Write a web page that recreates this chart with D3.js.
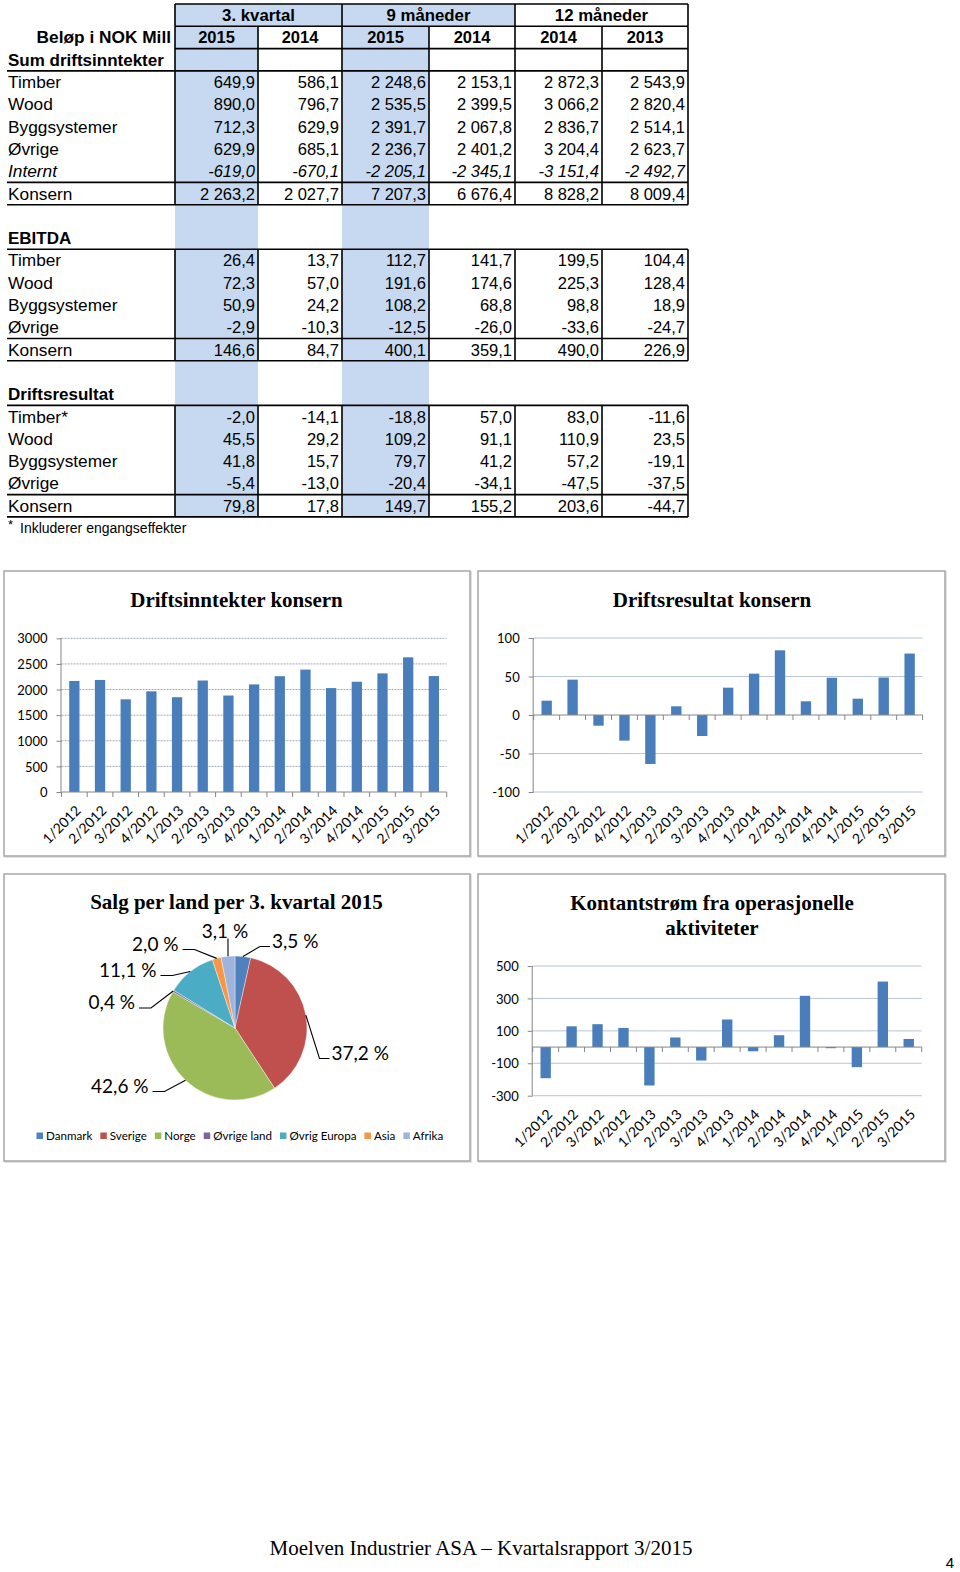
<!DOCTYPE html>
<html><head><meta charset="utf-8">
<script src="https://cdn.jsdelivr.net/npm/d3@7"></script>
<style>
html,body{margin:0;padding:0;background:#fff;}
svg{display:block;}
</style></head>
<body>
<svg id="page" width="960" height="1572"></svg>
<script>
// ---------------- DATA ----------------
const groupHeaders = ["3. kvartal", "9 måneder", "12 måneder"];
const yearHeaders = ["2015", "2014", "2015", "2014", "2014", "2013"];

const revenueTitle = "Sum driftsinntekter";
const revenueLabels = ["Timber", "Wood", "Byggsystemer", "Øvrige", "Internt", "Konsern"];
const revenueValues = [
  [649.9, 586.1, 2248.6, 2153.1, 2872.3, 2543.9],
  [890.0, 796.7, 2535.5, 2399.5, 3066.2, 2820.4],
  [712.3, 629.9, 2391.7, 2067.8, 2836.7, 2514.1],
  [629.9, 685.1, 2236.7, 2401.2, 3204.4, 2623.7],
  [-619.0, -670.1, -2205.1, -2345.1, -3151.4, -2492.7],
  [2263.2, 2027.7, 7207.3, 6676.4, 8828.2, 8009.4]
];
const ebitdaTitle = "EBITDA";
const ebitdaLabels = ["Timber", "Wood", "Byggsystemer", "Øvrige", "Konsern"];
const ebitdaValues = [
  [26.4, 13.7, 112.7, 141.7, 199.5, 104.4],
  [72.3, 57.0, 191.6, 174.6, 225.3, 128.4],
  [50.9, 24.2, 108.2, 68.8, 98.8, 18.9],
  [-2.9, -10.3, -12.5, -26.0, -33.6, -24.7],
  [146.6, 84.7, 400.1, 359.1, 490.0, 226.9]
];
const resultTitle = "Driftsresultat";
const resultLabels = ["Timber*", "Wood", "Byggsystemer", "Øvrige", "Konsern"];
const resultValues = [
  [-2.0, -14.1, -18.8, 57.0, 83.0, -11.6],
  [45.5, 29.2, 109.2, 91.1, 110.9, 23.5],
  [41.8, 15.7, 79.7, 41.2, 57.2, -19.1],
  [-5.4, -13.0, -20.4, -34.1, -47.5, -37.5],
  [79.8, 17.8, 149.7, 155.2, 203.6, -44.7]
];
const footnote = "Inkluderer engangseffekter";

const quarters = ["1/2012","2/2012","3/2012","4/2012","1/2013","2/2013","3/2013","4/2013",
                  "1/2014","2/2014","3/2014","4/2014","1/2015","2/2015","3/2015"];
const revenueQuarterly = [2167, 2187, 1809, 1965, 1850, 2176, 1883, 2100, 2260, 2389, 2028, 2152, 2315, 2629, 2263];
const resultQuarterly  = [18.6, 45.9, -13.9, -33.3, -63.6, 11.3, -27.3, 35.5, 53.7, 84.0, 17.8, 48.4, 21.2, 48.7, 79.8];
const cashflowQuarterly = [-192, 128, 141, 118, -237, 59, -83, 170, -26, 73, 316, -7, -124, 404, 50];

const revenueTicks = [0, 500, 1000, 1500, 2000, 2500, 3000];
const resultTicks = [-100, -50, 0, 50, 100];
const cashflowTicks = [-300, -100, 100, 300, 500];

const countries = ["Danmark", "Sverige", "Norge", "Øvrige land", "Øvrig Europa", "Asia", "Afrika"];
const countryShares = [3.5, 37.2, 42.6, 0.4, 11.1, 2.0, 3.1];

const chartTitles = ["Driftsinntekter konsern", "Driftsresultat konsern",
                     "Salg per land per 3. kvartal 2015", ["Kontantstrøm fra operasjonelle", "aktiviteter"]];
const footerText = "Moelven Industrier ASA – Kvartalsrapport 3/2015";
const pageNumber = "4";

// ---------------- STYLE / LAYOUT ----------------
const svg = d3.select("#page");
svg.append("rect").attr("width", 960).attr("height", 1572).attr("fill", "#fff");

const TFONT = "'Liberation Sans', Arial, sans-serif";
const CFONT = "Lato, 'Open Sans', sans-serif";
const SERIF = "'Liberation Serif', 'Times New Roman', serif";
const BLUEFILL = "#C6D9F1";
const BAR = "#4A7EBB";
const fmt = d3.formatLocale({decimal: ",", thousands: " ", grouping: [3], currency: ["", ""], minus: "-"}).format(",.1f");

// ---------------- TABLE ----------------
const colEdges = [175, 258, 342, 429, 515, 602, 688];
const rowTop = i => 4 + i * 22.3;
const rowMid = i => rowTop(i) + 11.15;
const tbl = svg.append("g");
const lineW = 1.6;

[0, 2].forEach(c => {
  tbl.append("rect").attr("x", colEdges[c]).attr("y", rowTop(0))
    .attr("width", colEdges[c + 1] - colEdges[c]).attr("height", rowTop(23) - rowTop(0))
    .attr("fill", BLUEFILL);
});
[0, 1].forEach(g => {
  tbl.append("rect").attr("x", colEdges[g * 2]).attr("y", rowTop(0))
    .attr("width", colEdges[g * 2 + 2] - colEdges[g * 2]).attr("height", 22.3).attr("fill", BLUEFILL);
});

const hline = (y, x0, x1) => tbl.append("line").attr("x1", x0).attr("x2", x1).attr("y1", y).attr("y2", y)
  .attr("stroke", "#000").attr("stroke-width", lineW);
const vline = (x, y0, y1) => tbl.append("line").attr("x1", x).attr("x2", x).attr("y1", y0).attr("y2", y1)
  .attr("stroke", "#000").attr("stroke-width", lineW);

const text = (x, y, s, opts = {}) => tbl.append("text").attr("x", x).attr("y", y).text(s)
  .attr("font-family", TFONT).attr("font-size", opts.size || 16.5)
  .attr("font-weight", opts.bold ? "bold" : null).attr("font-style", opts.italic ? "italic" : null)
  .attr("text-anchor", opts.anchor || "start").attr("fill", "#000");

hline(rowTop(0), colEdges[0], colEdges[6]);
hline(rowTop(1), colEdges[0], colEdges[6]);
[0, 2, 4, 6].forEach(i => vline(colEdges[i], rowTop(0), rowTop(1)));
groupHeaders.forEach((h, g) => text((colEdges[g * 2] + colEdges[g * 2 + 2]) / 2, rowMid(0) + 6, h, {bold: true, anchor: "middle", size: 16.8}));
text(171, rowMid(1) + 6, "Beløp i NOK Mill", {bold: true, anchor: "end", size: 17.3});
yearHeaders.forEach((y, c) => text((colEdges[c] + colEdges[c + 1]) / 2, rowMid(1) + 6, y, {bold: true, anchor: "middle"}));
hline(rowTop(2), colEdges[0], colEdges[6]);
colEdges.forEach(x => vline(x, rowTop(1), rowTop(3)));
text(8, rowMid(2) + 6, revenueTitle, {bold: true, size: 17});

function section(titleRow, title, labels, values, bordersFromTitle) {
  if (!bordersFromTitle) text(8, rowMid(titleRow) + 6, title, {bold: true, size: 17});
  const start = titleRow + 1, end = start + labels.length;
  hline(rowTop(start), 7, colEdges[6]);
  hline(rowTop(end - 1), 7, colEdges[6]);
  hline(rowTop(end), 7, colEdges[6]);
  colEdges.forEach(x => vline(x, rowTop(start), rowTop(end)));
  labels.forEach((lab, r) => {
    const italic = lab === "Internt";
    text(8, rowMid(start + r) + 6, lab, {italic, size: 17.3});
    values[r].forEach((v, c) => text(colEdges[c + 1] - 3, rowMid(start + r) + 6, fmt(v), {anchor: "end", italic}));
  });
}
section(2, revenueTitle, revenueLabels, revenueValues, true);
section(10, ebitdaTitle, ebitdaLabels, ebitdaValues, false);
section(17, resultTitle, resultLabels, resultValues, false);
text(8, rowMid(23) + 1, "*", {size: 13});
text(20, rowMid(23) + 5, footnote, {size: 14});

// ---------------- CHART FRAMES ----------------
const frames = [[4, 571, 470, 856], [478, 571, 945, 856], [4, 874, 470, 1161], [478, 874, 945, 1161]];
frames.forEach(([x0, y0, x1, y1]) => {
  svg.append("rect").attr("x", x0 + 1).attr("y", y0 + 1).attr("width", x1 - x0).attr("height", y1 - y0)
    .attr("fill", "none").attr("stroke", "#D9D9D9").attr("stroke-width", 1.5);
  svg.append("rect").attr("x", x0).attr("y", y0).attr("width", x1 - x0).attr("height", y1 - y0)
    .attr("fill", "#fff").attr("stroke", "#A6A6A6").attr("stroke-width", 1.5);
});

function chartTitle(cx, y, lines) {
  [].concat(lines).forEach((l, i) => svg.append("text").attr("x", cx).attr("y", y + i * 24.5).text(l)
    .attr("font-family", SERIF).attr("font-weight", "bold").attr("font-size", 21)
    .attr("text-anchor", "middle").attr("fill", "#000"));
}

function barChart({x0, x1, yTop, yBot, domain, ticks, values, dashed}) {
  const g = svg.append("g");
  const x = d3.scaleBand().domain(quarters).range([x0, x1]).paddingInner(0.6).paddingOuter(0.3);
  const y = d3.scaleLinear().domain(domain).range([yBot, yTop]);
  g.selectAll(".grid").data(ticks.filter(t => t !== 0)).join("line")
    .attr("x1", x0).attr("x2", x1).attr("y1", d => y(d)).attr("y2", d => y(d))
    .attr("stroke", dashed ? "#9FA8B8" : "#BAC5D6").attr("stroke-width", 1)
    .attr("stroke-dasharray", dashed ? "2,1" : null);
  g.selectAll(".bar").data(values).join("rect")
    .attr("x", (d, i) => x(quarters[i])).attr("width", x.bandwidth())
    .attr("y", d => y(Math.max(0, d))).attr("height", d => Math.abs(y(d) - y(0)))
    .attr("fill", BAR);
  const ya = g.append("g").attr("transform", `translate(${x0},0)`)
    .call(d3.axisLeft(y).tickValues(ticks).tickSize(5).tickPadding(9).tickFormat(d => String(d)));
  ya.select(".domain").attr("stroke", "#868686").attr("d", `M-0.5,${y(domain[0])}V${y(domain[1])}`);
  ya.selectAll(".tick line").attr("stroke", "#868686");
  ya.selectAll(".tick text").attr("font-family", CFONT).attr("font-size", 13).attr("fill", "#000").attr("dy", "0.36em");
  const y0px = y(0);
  g.append("line").attr("x1", x0).attr("x2", x1).attr("y1", y0px).attr("y2", y0px)
    .attr("stroke", "#868686").attr("stroke-width", 1);
  const step = x.step();
  d3.range(quarters.length + 1).forEach(i => {
    const xx = x0 + i * step;
    g.append("line").attr("x1", xx).attr("x2", xx).attr("y1", y0px).attr("y2", y0px + 5)
      .attr("stroke", "#868686").attr("stroke-width", 1);
  });
  const yLab = yBot + 16;
  g.selectAll(".xl").data(quarters).join("text")
    .attr("transform", d => `translate(${x(d) + x.bandwidth() / 2 + 4},${yLab}) rotate(-45)`)
    .attr("text-anchor", "end").attr("dy", "0.35em")
    .attr("font-family", CFONT).attr("font-size", 14).attr("fill", "#000").text(d => d);
}

chartTitle(236.5, 607, chartTitles[0]);
barChart({x0: 61.5, x1: 446.7, yTop: 638.3, yBot: 792, domain: [0, 3000], ticks: revenueTicks, values: revenueQuarterly, dashed: true});

chartTitle(712, 607, chartTitles[1]);
barChart({x0: 533.7, x1: 922.6, yTop: 638, yBot: 792, domain: [-100, 100], ticks: resultTicks, values: resultQuarterly});

chartTitle(712, 910, chartTitles[3]);
barChart({x0: 532.7, x1: 921.7, yTop: 966, yBot: 1095.7, domain: [-300, 500], ticks: cashflowTicks, values: cashflowQuarterly});

// ---------------- PIE ----------------
chartTitle(236.5, 909, chartTitles[2]);
const pieColors = ["#4F81BD", "#C0504D", "#9BBB59", "#8064A2", "#4BACC6", "#F79646", "#9EB4DD"];
const cx = 235, cy = 1028, R = 72;
const arcs = d3.pie().sort(null).value(d => d)(countryShares);
const arc = d3.arc().innerRadius(0).outerRadius(R);
const pg = svg.append("g").attr("transform", `translate(${cx},${cy})`);
pg.selectAll("path").data(arcs).join("path").attr("d", arc)
  .attr("fill", (d, i) => pieColors[i]).attr("stroke", "#fff").attr("stroke-width", 0.4);

// label layout per country (same order as countries): [text x, text mid y, anchor]
const labelLayout = [
  [272, 941, "start"],     // Danmark
  [331.5, 1053, "start"],  // Sverige
  [148.5, 1086, "end"],    // Norge
  [135, 1002.5, "end"],    // Øvrige land
  [156.5, 970, "end"],     // Øvrig Europa
  [178.5, 944, "end"],     // Asia
  [225, 931.5, "middle"]   // Afrika
];
const pct = d3.formatLocale({decimal: ",", thousands: " ", grouping: [3], currency: ["", ""]}).format(".1f");
arcs.forEach((a, i) => {
  const mid = (a.startAngle + a.endAngle) / 2;
  const ex = cx + R * Math.sin(mid), ey = cy - R * Math.cos(mid);
  const [tx, ty, anchor] = labelLayout[i];
  let pts;
  if (anchor === "middle") {
    pts = [[ex, ty + 7], [ex, ey]];
  } else if (anchor === "start") {
    pts = [[tx - 2, ty + 5.5], [tx - 12, ty + 5.5], [ex, ey]];
  } else {
    pts = [[tx + 4, ty + 5.5], [tx + 16, ty + 5.5], [ex, ey]];
  }
  svg.append("path").attr("d", d3.line()(pts)).attr("fill", "none").attr("stroke", "#000").attr("stroke-width", 1.1);
  svg.append("text").attr("x", tx).attr("y", ty).attr("dy", "0.35em").attr("text-anchor", anchor)
    .attr("font-family", CFONT).attr("font-size", 19).attr("fill", "#000")
    .text(pct(countryShares[i]) + " %");
});

// legend
const lg = svg.append("g");
let lx = 36.5;
countries.forEach((c, i) => {
  lg.append("rect").attr("x", lx).attr("y", 1132.5).attr("width", 6.5).attr("height", 6.5).attr("fill", pieColors[i]);
  const t = lg.append("text").attr("x", lx + 9.5).attr("y", 1136).attr("dy", "0.35em")
    .attr("font-family", CFONT).attr("font-size", 11.6).attr("fill", "#000").text(c);
  lx += 9.5 + t.node().getComputedTextLength() + 8;
});

// ---------------- FOOTER ----------------
svg.append("text").attr("x", 481).attr("y", 1555).attr("text-anchor", "middle")
  .attr("font-family", SERIF).attr("font-size", 21).attr("fill", "#000").text(footerText);
svg.append("text").attr("x", 950).attr("y", 1568).attr("text-anchor", "middle")
  .attr("font-family", TFONT).attr("font-size", 15).attr("fill", "#000").text(pageNumber);
</script>
</body></html>
